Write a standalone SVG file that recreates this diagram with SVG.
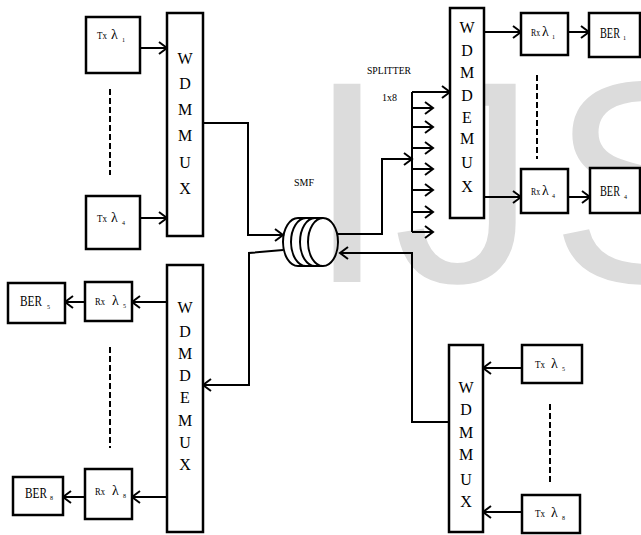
<svg xmlns="http://www.w3.org/2000/svg" width="641" height="535" viewBox="0 0 641 535">
<style>
.bx{fill:#fff;stroke:#000;stroke-width:2.5}
.ln{fill:none;stroke:#000;stroke-width:2}
.ar{fill:none;stroke:#000;stroke-width:2;marker-end:url(#ah)}
.ds{fill:none;stroke:#000;stroke-width:2;stroke-dasharray:6 3}
.lt{font-family:'Liberation Serif','Times New Roman',Tinos,'DejaVu Serif',serif;font-size:16px;fill:#000;text-anchor:middle}
.lb{font-family:'Liberation Serif','Times New Roman',Tinos,'DejaVu Serif',serif;fill:#000}
.wm{font-family:'Liberation Sans',Arial,sans-serif;font-size:288px;fill:#dcdcdc}
</style>
<defs>
<marker id="ah" markerUnits="userSpaceOnUse" markerWidth="12" markerHeight="16" refX="10" refY="8" orient="auto" viewBox="0 0 12 16">
<path d="M2,2 L10,8 L2,14" fill="none" stroke="#000" stroke-width="2"/>
</marker>
</defs>
<g id="watermark">
<text class="wm" x="307" y="282">I</text>
<text class="wm" x="393" y="282">J</text>
<text class="wm" x="550" y="282">S</text>
</g>
<g id="connectors">
<path class="ar" d="M140,48 H167"/>
<path class="ar" d="M140,218 H167"/>
<path class="ar" d="M203,123 H248 V235 H283"/>
<path class="ar" d="M338,234 H382 V159 H412"/>
<path class="ln" d="M412,92 V232"/>
<path class="ar" d="M412,92 H450"/>
<path class="ar" d="M412,108 H433"/>
<path class="ar" d="M412,127 H433"/>
<path class="ar" d="M412,148 H433"/>
<path class="ar" d="M412,169 H433"/>
<path class="ar" d="M412,190 H433"/>
<path class="ar" d="M412,212 H433"/>
<path class="ar" d="M412,232 H433"/>
<path class="ar" d="M484,32 H521"/>
<path class="ar" d="M568,32 H589"/>
<path class="ar" d="M484,197 H521"/>
<path class="ar" d="M568,197 H590"/>
<path class="ar" d="M522,368 H483"/>
<path class="ar" d="M522,512 H483"/>
<path class="ar" d="M449,422 H412 V253 H340"/>
<path class="ar" d="M283,250 L249,253 V385 H203"/>
<path class="ar" d="M167,302 H132"/>
<path class="ar" d="M85,302 H65"/>
<path class="ar" d="M167,497 H132"/>
<path class="ar" d="M85,497 H63"/>
<path class="ds" d="M110,89 V175"/>
<path class="ds" d="M537,75 V159"/>
<path class="ds" d="M110,347 V448"/>
<path class="ds" d="M550,404 V485"/>
</g>
<g id="smf">
<path class="ln" d="M298,218 H323 M298,266 H323"/>
<path class="ln" d="M298,218 A15,24 0 0 0 298,266 M306,218 A15,24 0 0 0 306,266 M315,218 A15,24 0 0 0 315,266"/>
<ellipse class="ln" cx="323" cy="242" rx="15" ry="24"/>
<text class="lb" x="294" y="186" font-size="11" textLength="20" lengthAdjust="spacingAndGlyphs">SMF</text>
</g>
<g id="splitter">
<text class="lb" x="367" y="74" font-size="11" textLength="44" lengthAdjust="spacingAndGlyphs">SPLITTER</text>
<text class="lb" x="382" y="101" font-size="11" textLength="15" lengthAdjust="spacingAndGlyphs">1x8</text>
</g>
<g id="tx1"><rect class="bx" x="86" y="17" width="54" height="56"/>
<text class="lb" x="97" y="39" font-size="10" textLength="10" lengthAdjust="spacingAndGlyphs">Tx</text>
<text class="lb" x="111" y="39" font-size="14">λ<tspan x="122" dy="3" font-size="6">1</tspan></text></g>
<g id="tx4"><rect class="bx" x="86" y="196" width="54" height="53"/>
<text class="lb" x="97" y="222" font-size="10" textLength="10" lengthAdjust="spacingAndGlyphs">Tx</text>
<text class="lb" x="111" y="222" font-size="14">λ<tspan x="122" dy="3" font-size="6">4</tspan></text></g>
<g id="mux1"><rect class="bx" x="167" y="13" width="36" height="223"/>
<text class="lt"><tspan x="185" y="64">W</tspan><tspan x="185" y="89">D</tspan><tspan x="185" y="115">M</tspan><tspan x="185" y="141">M</tspan><tspan x="185" y="168">U</tspan><tspan x="185" y="194">X</tspan></text></g>
<g id="demux1"><rect class="bx" x="450" y="8" width="34" height="210"/>
<text class="lt" font-size="15"><tspan x="467" y="33">W</tspan><tspan x="467" y="56">D</tspan><tspan x="467" y="78">M</tspan><tspan x="467" y="101">D</tspan><tspan x="467" y="123">E</tspan><tspan x="467" y="144">M</tspan><tspan x="467" y="168">U</tspan><tspan x="467" y="192">X</tspan></text></g>
<g id="rx1"><rect class="bx" x="521" y="13" width="47" height="42"/>
<text class="lb" x="531" y="36" font-size="10" textLength="9" lengthAdjust="spacingAndGlyphs">Rx</text>
<text class="lb" x="542" y="36" font-size="14">λ<tspan x="552" dy="3" font-size="6">1</tspan></text></g>
<g id="ber1"><rect class="bx" x="589" y="13" width="51" height="44"/>
<text class="lb" x="600" y="38" font-size="14" textLength="20" lengthAdjust="spacingAndGlyphs">BER</text>
<text class="lb" x="623" y="40" font-size="6">1</text></g>
<g id="rx4"><rect class="bx" x="521" y="169" width="47" height="44"/>
<text class="lb" x="531" y="195" font-size="10" textLength="9" lengthAdjust="spacingAndGlyphs">Rx</text>
<text class="lb" x="542" y="195" font-size="14">λ<tspan x="552" dy="3" font-size="6">4</tspan></text></g>
<g id="ber4"><rect class="bx" x="590" y="168" width="50" height="45"/>
<text class="lb" x="600" y="196" font-size="14" textLength="20" lengthAdjust="spacingAndGlyphs">BER</text>
<text class="lb" x="624" y="199" font-size="6">4</text></g>
<g id="demux2"><rect class="bx" x="167" y="265" width="36" height="267"/>
<text class="lt"><tspan x="185" y="313">W</tspan><tspan x="185" y="337">D</tspan><tspan x="185" y="359">M</tspan><tspan x="185" y="381">D</tspan><tspan x="185" y="403">E</tspan><tspan x="185" y="426">M</tspan><tspan x="185" y="448">U</tspan><tspan x="185" y="470">X</tspan></text></g>
<g id="rx5"><rect class="bx" x="85" y="282" width="47" height="39"/>
<text class="lb" x="95" y="305" font-size="10" textLength="10" lengthAdjust="spacingAndGlyphs">Rx</text>
<text class="lb" x="112" y="305" font-size="14">λ<tspan x="123" dy="3" font-size="6">5</tspan></text></g>
<g id="ber5"><rect class="bx" x="8" y="283" width="57" height="40"/>
<text class="lb" x="20" y="306" font-size="14" textLength="22" lengthAdjust="spacingAndGlyphs">BER</text>
<text class="lb" x="47" y="309" font-size="6">5</text></g>
<g id="rx8"><rect class="bx" x="85" y="469" width="47" height="50"/>
<text class="lb" x="95" y="495" font-size="10" textLength="10" lengthAdjust="spacingAndGlyphs">Rx</text>
<text class="lb" x="112" y="495" font-size="14">λ<tspan x="123" dy="3" font-size="6">8</tspan></text></g>
<g id="ber8"><rect class="bx" x="13" y="477" width="50" height="38"/>
<text class="lb" x="25" y="498" font-size="14" textLength="22" lengthAdjust="spacingAndGlyphs">BER</text>
<text class="lb" x="50" y="500" font-size="6">8</text></g>
<g id="mux2"><rect class="bx" x="449" y="345" width="34" height="187"/>
<text class="lt"><tspan x="466" y="393">W</tspan><tspan x="466" y="415">D</tspan><tspan x="466" y="438">M</tspan><tspan x="466" y="460">M</tspan><tspan x="466" y="485">U</tspan><tspan x="466" y="507">X</tspan></text></g>
<g id="tx5"><rect class="bx" x="522" y="345" width="60" height="38"/>
<text class="lb" x="535" y="368" font-size="10" textLength="10" lengthAdjust="spacingAndGlyphs">Tx</text>
<text class="lb" x="551" y="368" font-size="14">λ<tspan x="562" dy="3" font-size="6">5</tspan></text></g>
<g id="tx8"><rect class="bx" x="522" y="495" width="58" height="38"/>
<text class="lb" x="535" y="517" font-size="10" textLength="10" lengthAdjust="spacingAndGlyphs">Tx</text>
<text class="lb" x="551" y="517" font-size="14">λ<tspan x="562" dy="3" font-size="6">8</tspan></text></g>
</svg>
